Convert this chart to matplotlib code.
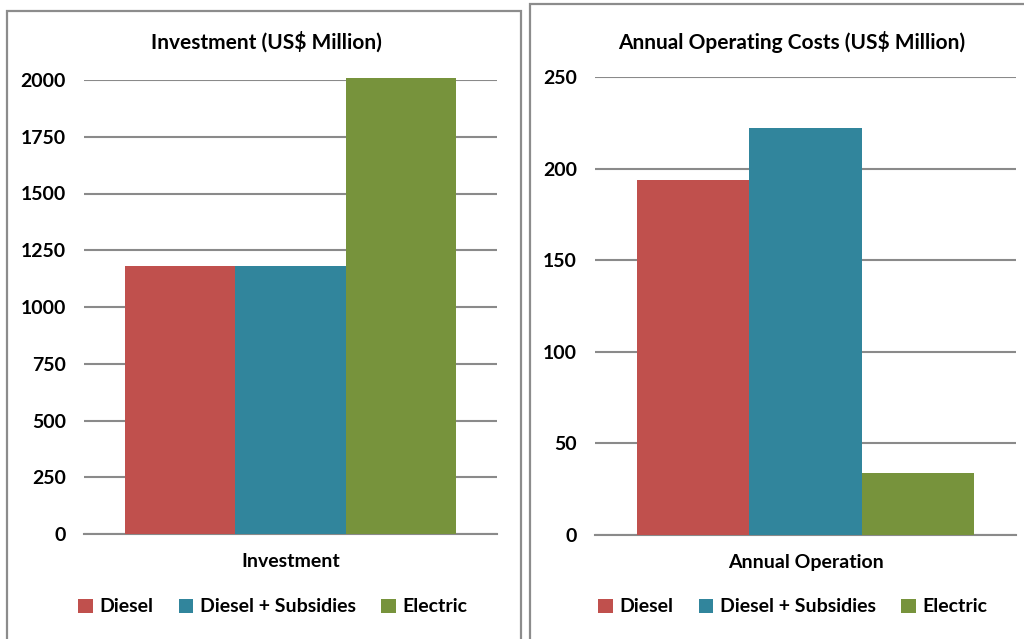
import matplotlib.pyplot as plt
from matplotlib.patches import Rectangle

# data
series = ["Diesel", "Diesel + Subsidies", "Electric"]
colors = ["#C0504D", "#31859C", "#77933C"]

invest_cat = "Investment"
invest_vals = [1180, 1180, 2010]
invest_ticks = [0, 250, 500, 750, 1000, 1250, 1500, 1750, 2000]

oper_cat = "Annual Operation"
oper_vals = [194, 222, 34]
oper_ticks = [0, 50, 100, 150, 200, 250]

plt.rcParams['font.family'] = ['Lato', 'DejaVu Sans']
plt.rcParams['font.weight'] = 'bold'

W, H = 1024, 639
fig = plt.figure(figsize=(W / 100, H / 100), dpi=100)


def px(x0, y0, x1, y1):
    # pixel box (top-left origin) -> figure fraction rect
    return [x0 / W, 1 - y1 / H, (x1 - x0) / W, (y1 - y0) / H]


# panel frames
for x0, y0, x1 in [(7, 11, 521), (530, 4, 1030)]:
    fig.patches.append(Rectangle((x0 / W, -0.05), (x1 - x0) / W, 1.05 - y0 / H,
                                 transform=fig.transFigure, fill=False,
                                 edgecolor="#8c8c8c", linewidth=1.6))


def panel(rect, cat, vals, ticks, title, title_x, legend_x):
    ax = fig.add_axes(px(*rect))
    w = 0.8 / 3
    for i, (v, c) in enumerate(zip(vals, colors)):
        ax.bar((i - 1) * w, v, width=w, color=c, clip_on=False, zorder=3, label=series[i])
    ax.set_xlim(-0.5, 0.5)
    ax.set_ylim(0, ticks[-1])
    ax.set_yticks(ticks)
    ax.set_yticklabels([str(t) for t in ticks], fontsize=14, fontweight='bold')
    ax.tick_params(axis='y', length=0, pad=13)
    ax.set_xticks([])
    ax.grid(axis='y', color="#8a8a8a", linewidth=1.5, zorder=0)
    for s in ["top", "right", "left"]:
        ax.spines[s].set_visible(False)
    ax.spines["bottom"].set_color("#8a8a8a")
    ax.spines["bottom"].set_linewidth(1.5)
    ax.set_xlabel(cat, fontsize=14, fontweight='bold', labelpad=14)
    fig.text(title_x / W, 1 - 42 / H, title, ha='center', va='center',
             fontsize=15, fontweight='bold')
    ax.legend(loc='center left', bbox_to_anchor=(legend_x / W, 1 - 607 / H),
              bbox_transform=fig.transFigure,
              ncol=3, frameon=False, fontsize=14, handlelength=0.75,
              handleheight=0.75, handletextpad=0.35, columnspacing=1.3,
              borderaxespad=0, borderpad=0)
    return ax


panel((84, 80, 497, 534), invest_cat, invest_vals, invest_ticks,
      "Investment (US$ Million)", 266, 78)
panel((595, 77, 1016, 535), oper_cat, oper_vals, oper_ticks,
      "Annual Operating Costs (US$ Million)", 792, 598)

fig.savefig("out.png", dpi=100)
